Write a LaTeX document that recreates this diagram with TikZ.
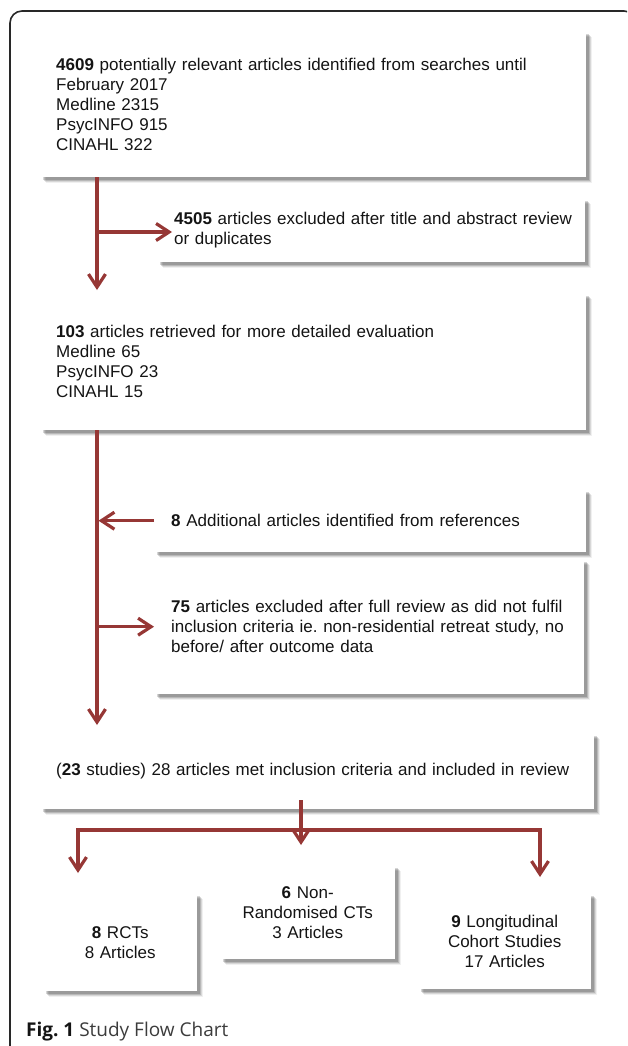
\documentclass[tikz,border=0pt]{standalone}
\usepackage{fontspec}
\setmainfont{Liberation Sans}
\newfontfamily\capfont{Open Sans}
\usetikzlibrary{arrows.meta,shadows,calc}
\definecolor{arrowred}{RGB}{150,55,53}
\definecolor{txt}{RGB}{20,20,20}
\definecolor{framecol}{RGB}{40,40,40}
\definecolor{captxt}{RGB}{60,60,60}
\frenchspacing
\hyphenpenalty=10000
\exhyphenpenalty=10000
\tikzset{
  every node/.style={font=\fontsize{17}{20}\selectfont, text=txt},
  card/.style={fill=white, draw=none, anchor=north west, inner ysep=0pt,
    drop shadow={shadow xshift=5.5pt, shadow yshift=-5.5pt, fill=black, opacity=0.06},
    drop shadow={shadow xshift=4.5pt, shadow yshift=-4.5pt, fill=black, opacity=0.10},
    drop shadow={shadow xshift=3.5pt, shadow yshift=-3.5pt, fill=black, opacity=0.14},
    drop shadow={shadow xshift=2.5pt, shadow yshift=-2.5pt, fill=black, opacity=0.16}},
  lcard/.style={card, align=left},
  ccard/.style={card, align=center},
  arr/.style={draw=arrowred, line width=3.2pt, -{Straight Barb[length=13pt,width=17pt]}},
}
\begin{document}
\begin{tikzpicture}[x=1pt, y=-1pt]
\clip (0,0) rectangle (627,1046);
\fill[white] (0,0) rectangle (627,1046);
% outer frame
\draw[framecol, line width=1.6pt, rounded corners=12pt] (10,1100) -- (10,11) -- (636,11) -- (636,1100);

% boxes
\node[lcard, text width=514pt, inner xsep=16pt, minimum height=146pt] (src) at (40,31)
  {\mbox{\textbf{4609} potentially relevant articles identified from searches until}\\February 2017\\Medline 2315\\PsycINFO 915\\CINAHL 322};
\node[lcard, text width=394pt, inner xsep=17pt, minimum height=64pt] (excl1) at (157,198)
  {\mbox{\textbf{4505} articles excluded after title and abstract review}\\or duplicates};
\node[lcard, text width=514pt, inner xsep=16pt, minimum height=137pt] (ret) at (40,293)
  {\textbf{103} articles retrieved for more detailed evaluation\\Medline 65\\PsycINFO 23\\CINAHL 15};
\node[lcard, text width=398pt, inner xsep=17pt, minimum height=63pt] (add) at (154,489)
  {\textbf{8} Additional articles identified from references};
\node[lcard, text width=396pt, inner xsep=17pt, minimum height=135pt] (excl2) at (154,559)
  {\mbox{\textbf{75} articles excluded after full review as did not fulfil}\\\mbox{inclusion criteria ie. non-residential retreat study, no}\\before/ after outcome data};
\node[lcard, text width=522pt, inner xsep=16pt, minimum height=76pt] (incl) at (40,733)
  {\mbox{(\textbf{23} studies) 28 articles met inclusion criteria and included in review}};
\node[ccard, text width=140pt, inner xsep=7pt, minimum height=98pt] (rct) at (43,893)
  {\textbf{8} RCTs\\8 Articles};
\node[ccard, text width=161pt, inner xsep=7pt, minimum height=94pt] (nrct) at (220,865)
  {\textbf{6} Non-\\Randomised CTs\\3 Articles};
\node[ccard, text width=159pt, inner xsep=7pt, minimum height=96pt] (coh) at (418,893)
  {\textbf{9} Longitudinal\\Cohort Studies\\17 Articles};

% caption
\node[anchor=base west, inner sep=0pt, font=\capfont\fontsize{19}{21}\selectfont, text=txt] (cap) at (26,1036)
  {\textbf{Fig. 1} \textcolor{captxt}{Study Flow Chart}};

% connectors
\coordinate (colx) at (97,0);
\coordinate (b1) at (97,232);
\coordinate (split) at (301,830);
\coordinate (lx) at (78,830);
\coordinate (rx) at (540,830);
\coordinate (stubtop) at ($(incl.south -| split)+(0,-9)$);
\coordinate (stubend) at ($(split)+(0,15)$);

\draw[arr, shorten >=3pt] (src.south -| colx) -- (ret.north -| colx);
\draw[arr, shorten >=-15pt] (b1) -- (b1 -| excl1.west);
\draw[arr, shorten >=8pt] (ret.south -| colx) -- (incl.north -| colx);
\draw[arr, shorten >=1.5pt] (add.west) -- (add.west -| colx);
\draw[arr] (excl2.west -| colx) -- (excl2.west);
\draw[arr, shorten >=20pt] (split) -| (rct.north -| lx);
\draw[arr, shorten >=16pt] (split) -| (coh.north -| rx);
\draw[arr] (stubtop) -- (stubend);
\end{tikzpicture}
\end{document}
